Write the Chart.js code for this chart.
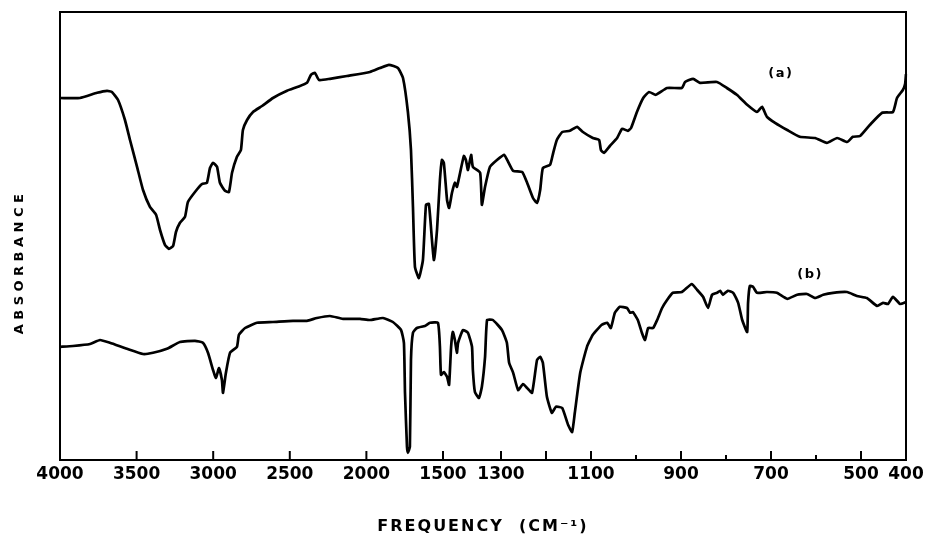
<!DOCTYPE html>
<html>
<head>
<meta charset="utf-8">
<script src="https://cdn.jsdelivr.net/npm/chart.js@4.4.1/dist/chart.umd.min.js"></script>
<style>
    html, body { margin: 0; padding: 0; background: #fff; }
    #wrap { width: 931px; height: 536px; }
</style>
</head>
<body>
<div id="wrap"><canvas id="spectrum"></canvas></div>
<script>
const wavenumbersA = [4000, 3870, 3758, 3693, 3661, 3621, 3576, 3543, 3497, 3458, 3413, 3373, 3347, 3315, 3289, 3262,
    3243, 3217, 3184, 3165, 3119, 3073, 3041, 3021, 3001, 2975, 2956, 2923, 2897, 2877, 2845, 2819, 2806, 2779, 2740,
    2681, 2610, 2518, 2447, 2388, 2362, 2336, 2309, 2238, 2127, 1977, 1911, 1853, 1794, 1761, 1729, 1709, 1696, 1683,
    1657, 1631, 1611, 1592, 1572, 1559, 1539, 1520, 1507, 1497, 1486, 1479, 1469, 1459, 1452, 1441, 1428, 1421, 1414,
    1403, 1397, 1372, 1366, 1355, 1338, 1314, 1293, 1284, 1273, 1253, 1242, 1229, 1220, 1213, 1207, 1191, 1184, 1176,
    1164, 1147, 1131, 1118, 1096, 1082, 1078, 1071, 1058, 1042, 1031, 1018, 1011, 998, 984, 971, 956, 931, 898, 891,
    873, 858, 820, 798, 776, 753, 731, 720, 709, 691, 664, 636, 602, 576, 553, 531, 518, 502, 480, 453, 429, 420, 407, 402, 400];
const absorbanceA = [90.5, 90.5, 91.8, 92.3, 92, 90, 85, 80, 73.3, 67.5, 63.3, 61.3, 57.5, 53.8, 52.8, 53.5,
    57, 59.3, 60.8, 64.5, 67, 69, 69.3, 73, 74.3, 73.3, 69.3, 67.3, 67, 71.8, 75.8, 77.5, 82.5, 85, 87,
    88.5, 90.5, 92.3, 93.3, 94.3, 96.3, 96.8, 95, 95.3, 96, 97, 98, 98.8, 98, 95.5, 87, 77.5, 63.3, 48.3,
    45.5, 50, 63.8, 64, 55, 50, 57.5, 70, 75, 74.3, 65, 63, 66.8, 69.3, 68.3, 71.8, 76, 75, 72.5,
    76.3, 73.3, 71.8, 63.8, 68.3, 73.3, 75, 76.3, 74.5, 72.3, 72, 69.3, 65.5, 64.3, 67.5, 73, 73.8, 76.8, 80,
    82, 82.3, 83.3, 82, 80.5, 80, 77.5, 76.8, 78.5, 80.5, 82.8, 82.3, 83, 87, 90.5, 92, 91.3, 93, 93, 94.5,
    95.3, 94.3, 94.5, 93, 91.3, 88.8, 87, 88.3, 85.8, 84.3, 82.5, 80.8, 80.5, 79.3, 80.5, 79.5, 80.8, 81, 83.8, 86.8, 87, 90.5, 92.5, 94, 96.5];

const wavenumbersB = [4000, 3915, 3804, 3739, 3674, 3563, 3458, 3393, 3302, 3217, 3119, 3067, 3034, 3001, 2982, 2962,
    2943, 2936, 2917, 2890, 2845, 2832, 2792, 2714, 2610, 2479, 2388, 2323, 2238, 2153, 2042, 1977, 1892, 1827, 1774,
    1755, 1748, 1735, 1729, 1716, 1709, 1696, 1670, 1618, 1585, 1533, 1520, 1513, 1497, 1486, 1479, 1472, 1466, 1459,
    1452, 1448, 1431, 1414, 1400, 1397, 1390, 1376, 1366, 1355, 1348, 1328, 1298, 1287, 1282, 1273, 1262, 1251, 1242,
    1231, 1220, 1213, 1207, 1198, 1187, 1178, 1164, 1151, 1142, 1136, 1124, 1109, 1096, 1076, 1064, 1056, 1047, 1036,
    1020, 1013, 1007, 996, 987, 980, 973, 962, 953, 942, 931, 918, 898, 876, 864, 851, 840, 831, 820, 813, 807, 796,
    784, 773, 764, 753, 751, 747, 740, 731, 709, 687, 664, 642, 620, 602, 584, 562, 531, 509, 487, 464, 451, 440, 429, 413, 400];
const absorbanceB = [28.3, 28.5, 29, 30, 29.3, 27.8, 26.5, 26.8, 27.8, 29.5, 29.8, 29.3, 26.8, 22.5, 20.5, 23,
    20, 16.8, 21.8, 26.8, 28.3, 31.3, 33, 34.3, 34.5, 34.8, 34.8, 35.5, 36, 35.3, 35.3, 35, 35.5, 34.5, 32.5,
    29.3, 16.8, 3.3, 1.8, 3.3, 25, 31.8, 33, 33.5, 34.3, 34.3, 28.3, 21.3, 22, 20.8, 18.8, 28.3, 32, 30,
    26.8, 29.3, 32.5, 31.8, 28.3, 22.5, 17, 15.5, 18.3, 25.8, 35, 35, 32.5, 29.3, 24.3, 21.8, 17.5, 19, 18,
    16.8, 25, 25.8, 24.3, 15.8, 11.8, 13.3, 13, 8.8, 7, 11.8, 21.8, 28.3, 31.3, 33.8, 34.3, 33, 36.8, 38.3,
    38, 36.8, 37, 35, 31.8, 30, 33, 33, 35, 38, 40, 41.8, 42, 44, 42.5, 40.8, 38, 41.3, 41.8, 42.3, 41.3, 42.3,
    41.8, 39.3, 35, 32, 39.3, 43.5, 43.3, 41.8, 42, 41.8, 40.3, 41.3, 41.5, 40.5, 41.3, 41.8, 42, 41, 40.5, 38.5, 39.3, 39, 40.8, 39, 39.5];

const tickValues = [4000, 3500, 3000, 2500, 2000, 1500, 1300, 1200, 1100, 1000, 900, 800, 700, 600, 500, 400];
const tickLabels = ['4000', '3500', '3000', '2500', '2000', '1500', '1300', '', '1100', '', '900', '', '700', '', '500', '400'];
const minorTicks = [1000, 800, 600];

const curveNames = ['(a)', '(b)'];
const curveNameX = [678, 613];
const curveNameY = [96.5, 46.3];

// the frequency axis changes its scale at 1500 and 1300 cm-1
const axisBreaks = [4000, 1500, 1300, 400];
const axisShare = [0, 0.4527, 0.5213, 1];

function shareOf(value) {
    for (let i = 0; i < axisBreaks.length - 1; i++) {
        const hi = axisBreaks[i], lo = axisBreaks[i + 1];
        if (value >= lo || i === axisBreaks.length - 2) {
            const t = (hi - value) / (hi - lo);
            return axisShare[i] + t * (axisShare[i + 1] - axisShare[i]);
        }
    }
    return 0;
}

function valueOfShare(share) {
    for (let i = 0; i < axisShare.length - 1; i++) {
        if (share <= axisShare[i + 1] || i === axisShare.length - 2) {
            const t = (share - axisShare[i]) / (axisShare[i + 1] - axisShare[i]);
            return axisBreaks[i] - t * (axisBreaks[i] - axisBreaks[i + 1]);
        }
    }
    return axisBreaks[0];
}

class FrequencyScale extends Chart.LinearScale {
    determineDataLimits() {
        this.min = axisBreaks[axisBreaks.length - 1];
        this.max = axisBreaks[0];
    }
    buildTicks() {
        return tickValues.map(v => ({ value: v }));
    }
    getPixelForValue(value) {
        return this.getPixelForDecimal(shareOf(value));
    }
    getValueForPixel(pixel) {
        return valueOfShare(this.getDecimalForPixel(pixel));
    }
}
FrequencyScale.id = 'frequency';
FrequencyScale.defaults = Chart.LinearScale.defaults;
Chart.register(FrequencyScale);

const spectrumPlugin = {
    id: 'spectrumFrame',
    beforeDraw(chart) {
        // letter spaced axis titles like the printed figure
        ['x', 'y'].forEach(id => {
            const scale = chart.scales[id];
            if (scale._spaced) return;
            const drawTitle = scale.drawTitle.bind(scale);
            scale.drawTitle = () => {
                const ctx = scale.ctx;
                ctx.save();
                ctx.letterSpacing = id === 'x' ? '2px' : '4.5px';
                if (id === 'y') ctx.translate(0, 26);
                drawTitle();
                ctx.restore();
            };
            scale._spaced = true;
        });
    },
    afterDraw(chart) {
        const ctx = chart.ctx;
        const area = chart.chartArea;
        const x = chart.scales.x;
        const y = chart.scales.y;
        ctx.save();
        ctx.strokeStyle = '#000';
        ctx.lineWidth = 2;
        ctx.strokeRect(area.left, area.top, area.right - area.left, area.bottom - area.top);

        tickValues.forEach(v => {
            const px = x.getPixelForValue(v);
            const len = minorTicks.includes(v) ? 5 : 9;
            ctx.beginPath();
            ctx.moveTo(px, area.bottom);
            ctx.lineTo(px, area.bottom - len);
            ctx.stroke();
        });

        ctx.fillStyle = '#000';
        ctx.font = 'bold 13px "DejaVu Sans"';
        ctx.letterSpacing = '1.5px';
        ctx.textAlign = 'center';
        ctx.textBaseline = 'middle';
        curveNames.forEach((name, i) => {
            ctx.fillText(name, x.getPixelForValue(curveNameX[i]), y.getPixelForValue(curveNameY[i]));
        });
        ctx.restore();
    }
};

const toPoints = (xs, ys) => xs.map((w, i) => ({ x: w, y: ys[i] }));

new Chart(document.getElementById('spectrum'), {
    type: 'line',
    data: {
        datasets: [
            {
                label: 'a',
                data: toPoints(wavenumbersA, absorbanceA),
                borderColor: '#000',
                borderWidth: 2.7,
                pointRadius: 0,
                tension: 0.15,
                fill: false
            },
            {
                label: 'b',
                data: toPoints(wavenumbersB, absorbanceB),
                borderColor: '#000',
                borderWidth: 2.7,
                pointRadius: 0,
                tension: 0.15,
                fill: false
            }
        ]
    },
    plugins: [spectrumPlugin],
    options: {
        responsive: true,
        maintainAspectRatio: false,
        animation: false,
        events: [],
        layout: { padding: { left: 0, right: 25, top: 12, bottom: 0 } },
        plugins: {
            legend: { display: false },
            tooltip: { enabled: false }
        },
        scales: {
            x: {
                type: 'frequency',
                grid: { display: false, drawTicks: false },
                border: { display: false },
                ticks: {
                    autoSkip: false,
                    maxRotation: 0,
                    padding: 4,
                    color: '#000',
                    font: { family: '"DejaVu Sans"', weight: 'bold', size: 17 },
                    callback: (value, index) => tickLabels[index]
                },
                title: {
                    display: true,
                    text: 'FREQUENCY  (CM⁻¹)',
                    color: '#000',
                    font: { family: '"DejaVu Sans"', weight: 'bold', size: 16, lineHeight: 1 },
                    padding: { top: 0, bottom: 1 }
                },
                afterFit: s => { s.height = 76; }
            },
            y: {
                min: 0,
                max: 112,
                grid: { display: false, drawTicks: false },
                border: { display: false },
                ticks: { display: false },
                title: {
                    display: true,
                    text: 'ABSORBANCE',
                    color: '#000',
                    font: { family: '"DejaVu Sans"', weight: 'bold', size: 13 },
                    padding: { top: 12, bottom: 0 }
                },
                afterFit: s => { s.width = 60; }
            }
        }
    }
});
</script>
</body>
</html>
